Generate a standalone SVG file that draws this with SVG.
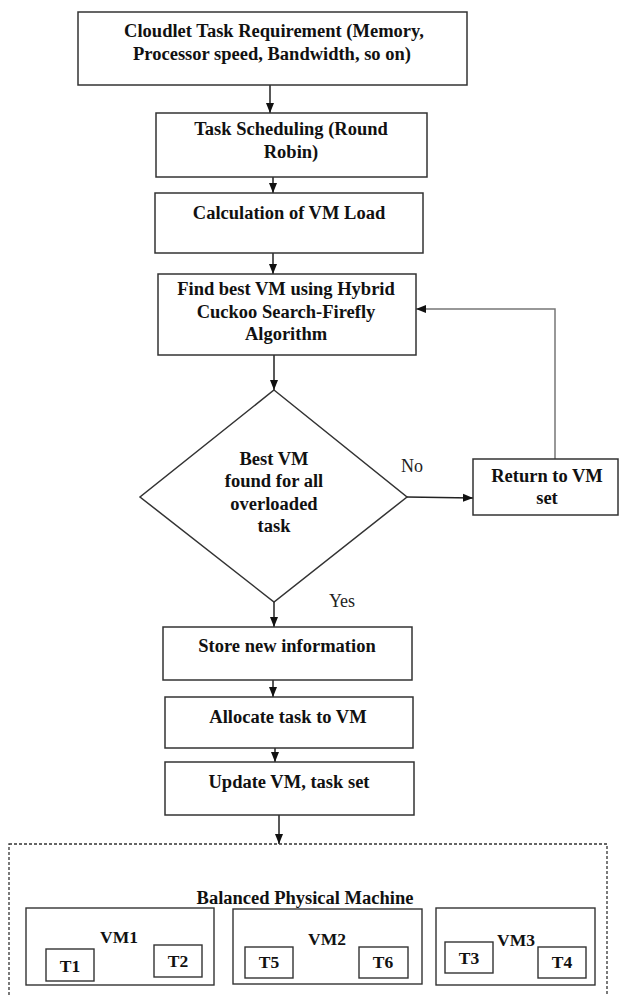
<svg xmlns="http://www.w3.org/2000/svg" width="620" height="996" viewBox="0 0 620 996">
<defs>
<marker id="ah" markerUnits="userSpaceOnUse" markerWidth="10" markerHeight="10" viewBox="0 0 10 10" refX="10" refY="5" orient="auto">
<path d="M0,1 L10,5 L0,9 Z" fill="#111"/>
</marker>
</defs>
<style>
.box{fill:#fff;stroke:#333;stroke-width:1.5}
.sbox{fill:none;stroke:#333;stroke-width:1.4}
.t{font-family:"Liberation Serif","Times New Roman",serif;font-weight:bold;font-size:18.5px;fill:#111;text-anchor:middle}
.r{font-family:"Liberation Serif","Times New Roman",serif;font-size:18px;fill:#222;text-anchor:middle}
.s{font-family:"Liberation Serif","Times New Roman",serif;font-weight:bold;font-size:17.5px;fill:#111;text-anchor:middle}
.c{fill:none;stroke:#222;stroke-width:1.5}
.g{fill:none;stroke:#777;stroke-width:1.5}
</style>
<rect width="620" height="996" fill="#fff"/>

<g id="connectors">
<line class="c" x1="270" y1="85" x2="270" y2="113" marker-end="url(#ah)"/>
<line class="c" x1="273" y1="177" x2="273" y2="193" marker-end="url(#ah)"/>
<line class="c" x1="273" y1="253" x2="273" y2="274" marker-end="url(#ah)"/>
<line class="c" x1="274" y1="355" x2="274" y2="390" marker-end="url(#ah)"/>
<line class="c" x1="407" y1="497" x2="473" y2="498" marker-end="url(#ah)"/>
<polyline class="g" points="555,459 555,309 416,309" marker-end="url(#ah)"/>
<line class="c" x1="274" y1="602" x2="274" y2="627" marker-end="url(#ah)"/>
<line class="c" x1="273" y1="680" x2="273" y2="697" marker-end="url(#ah)"/>
<line class="c" x1="275" y1="748" x2="275" y2="762" marker-end="url(#ah)"/>
<line class="c" x1="279" y1="815" x2="279" y2="844" marker-end="url(#ah)"/>
<text class="r" x="412" y="472">No</text>
<text class="r" x="342" y="607">Yes</text>
</g>

<g id="cloudlet">
<rect class="box" x="78" y="12" width="389" height="73"/>
<text class="t" x="274" y="37">Cloudlet Task Requirement (Memory,</text>
<text class="t" x="272" y="60">Processor speed, Bandwidth, so on)</text>
</g>

<g id="scheduling">
<rect class="box" x="156" y="113" width="271" height="64"/>
<text class="t" x="291" y="135">Task Scheduling (Round</text>
<text class="t" x="291" y="158">Robin)</text>
</g>

<g id="calc">
<rect class="box" x="155" y="193" width="268" height="60"/>
<text class="t" x="289" y="219">Calculation of VM Load</text>
</g>

<g id="findbest">
<rect class="box" x="158" y="274" width="258" height="81"/>
<text class="t" x="286" y="295">Find best VM using Hybrid</text>
<text class="t" x="286" y="318">Cuckoo Search-Firefly</text>
<text class="t" x="286" y="340">Algorithm</text>
</g>

<g id="decision">
<polygon class="box" points="274,390 407,497 274,602 140,497"/>
<text class="t" x="274" y="465">Best VM</text>
<text class="t" x="274" y="487">found for all</text>
<text class="t" x="274" y="510">overloaded</text>
<text class="t" x="274" y="532">task</text>
</g>

<g id="return">
<rect class="box" x="473" y="459" width="145" height="56"/>
<text class="t" x="547" y="482">Return to VM</text>
<text class="t" x="547" y="504">set</text>
</g>

<g id="store">
<rect class="box" x="163" y="627" width="249" height="53"/>
<text class="t" x="287" y="652">Store new information</text>
</g>

<g id="allocate">
<rect class="box" x="165" y="697" width="248" height="51"/>
<text class="t" x="288" y="723">Allocate task to VM</text>
</g>

<g id="update">
<rect class="box" x="165" y="762" width="249" height="53"/>
<text class="t" x="289" y="788">Update VM, task set</text>
</g>

<g id="machine">
<rect x="9" y="844" width="598" height="160" fill="none" stroke="#333" stroke-width="1.3" stroke-dasharray="3,2"/>
<text class="t" x="305" y="904">Balanced Physical Machine</text>
</g>

<g id="vm1">
<rect class="sbox" x="26" y="908" width="188" height="77"/>
<text class="s" x="119" y="943">VM1</text>
<rect class="sbox" x="46" y="949" width="48" height="32"/>
<text class="s" x="70" y="972">T1</text>
<rect class="sbox" x="154" y="945" width="48" height="32"/>
<text class="s" x="178" y="967">T2</text>
</g>

<g id="vm2">
<rect class="sbox" x="233" y="909" width="189" height="75"/>
<text class="s" x="327" y="945">VM2</text>
<rect class="sbox" x="245" y="947" width="48" height="31"/>
<text class="s" x="269" y="968">T5</text>
<rect class="sbox" x="359" y="947" width="49" height="31"/>
<text class="s" x="383" y="968">T6</text>
</g>

<g id="vm3">
<rect class="sbox" x="436" y="908" width="159" height="77"/>
<text class="s" x="516" y="946">VM3</text>
<rect class="sbox" x="445" y="942" width="48" height="31"/>
<text class="s" x="469" y="964">T3</text>
<rect class="sbox" x="538" y="947" width="48" height="31"/>
<text class="s" x="562" y="968">T4</text>
</g>
</svg>
